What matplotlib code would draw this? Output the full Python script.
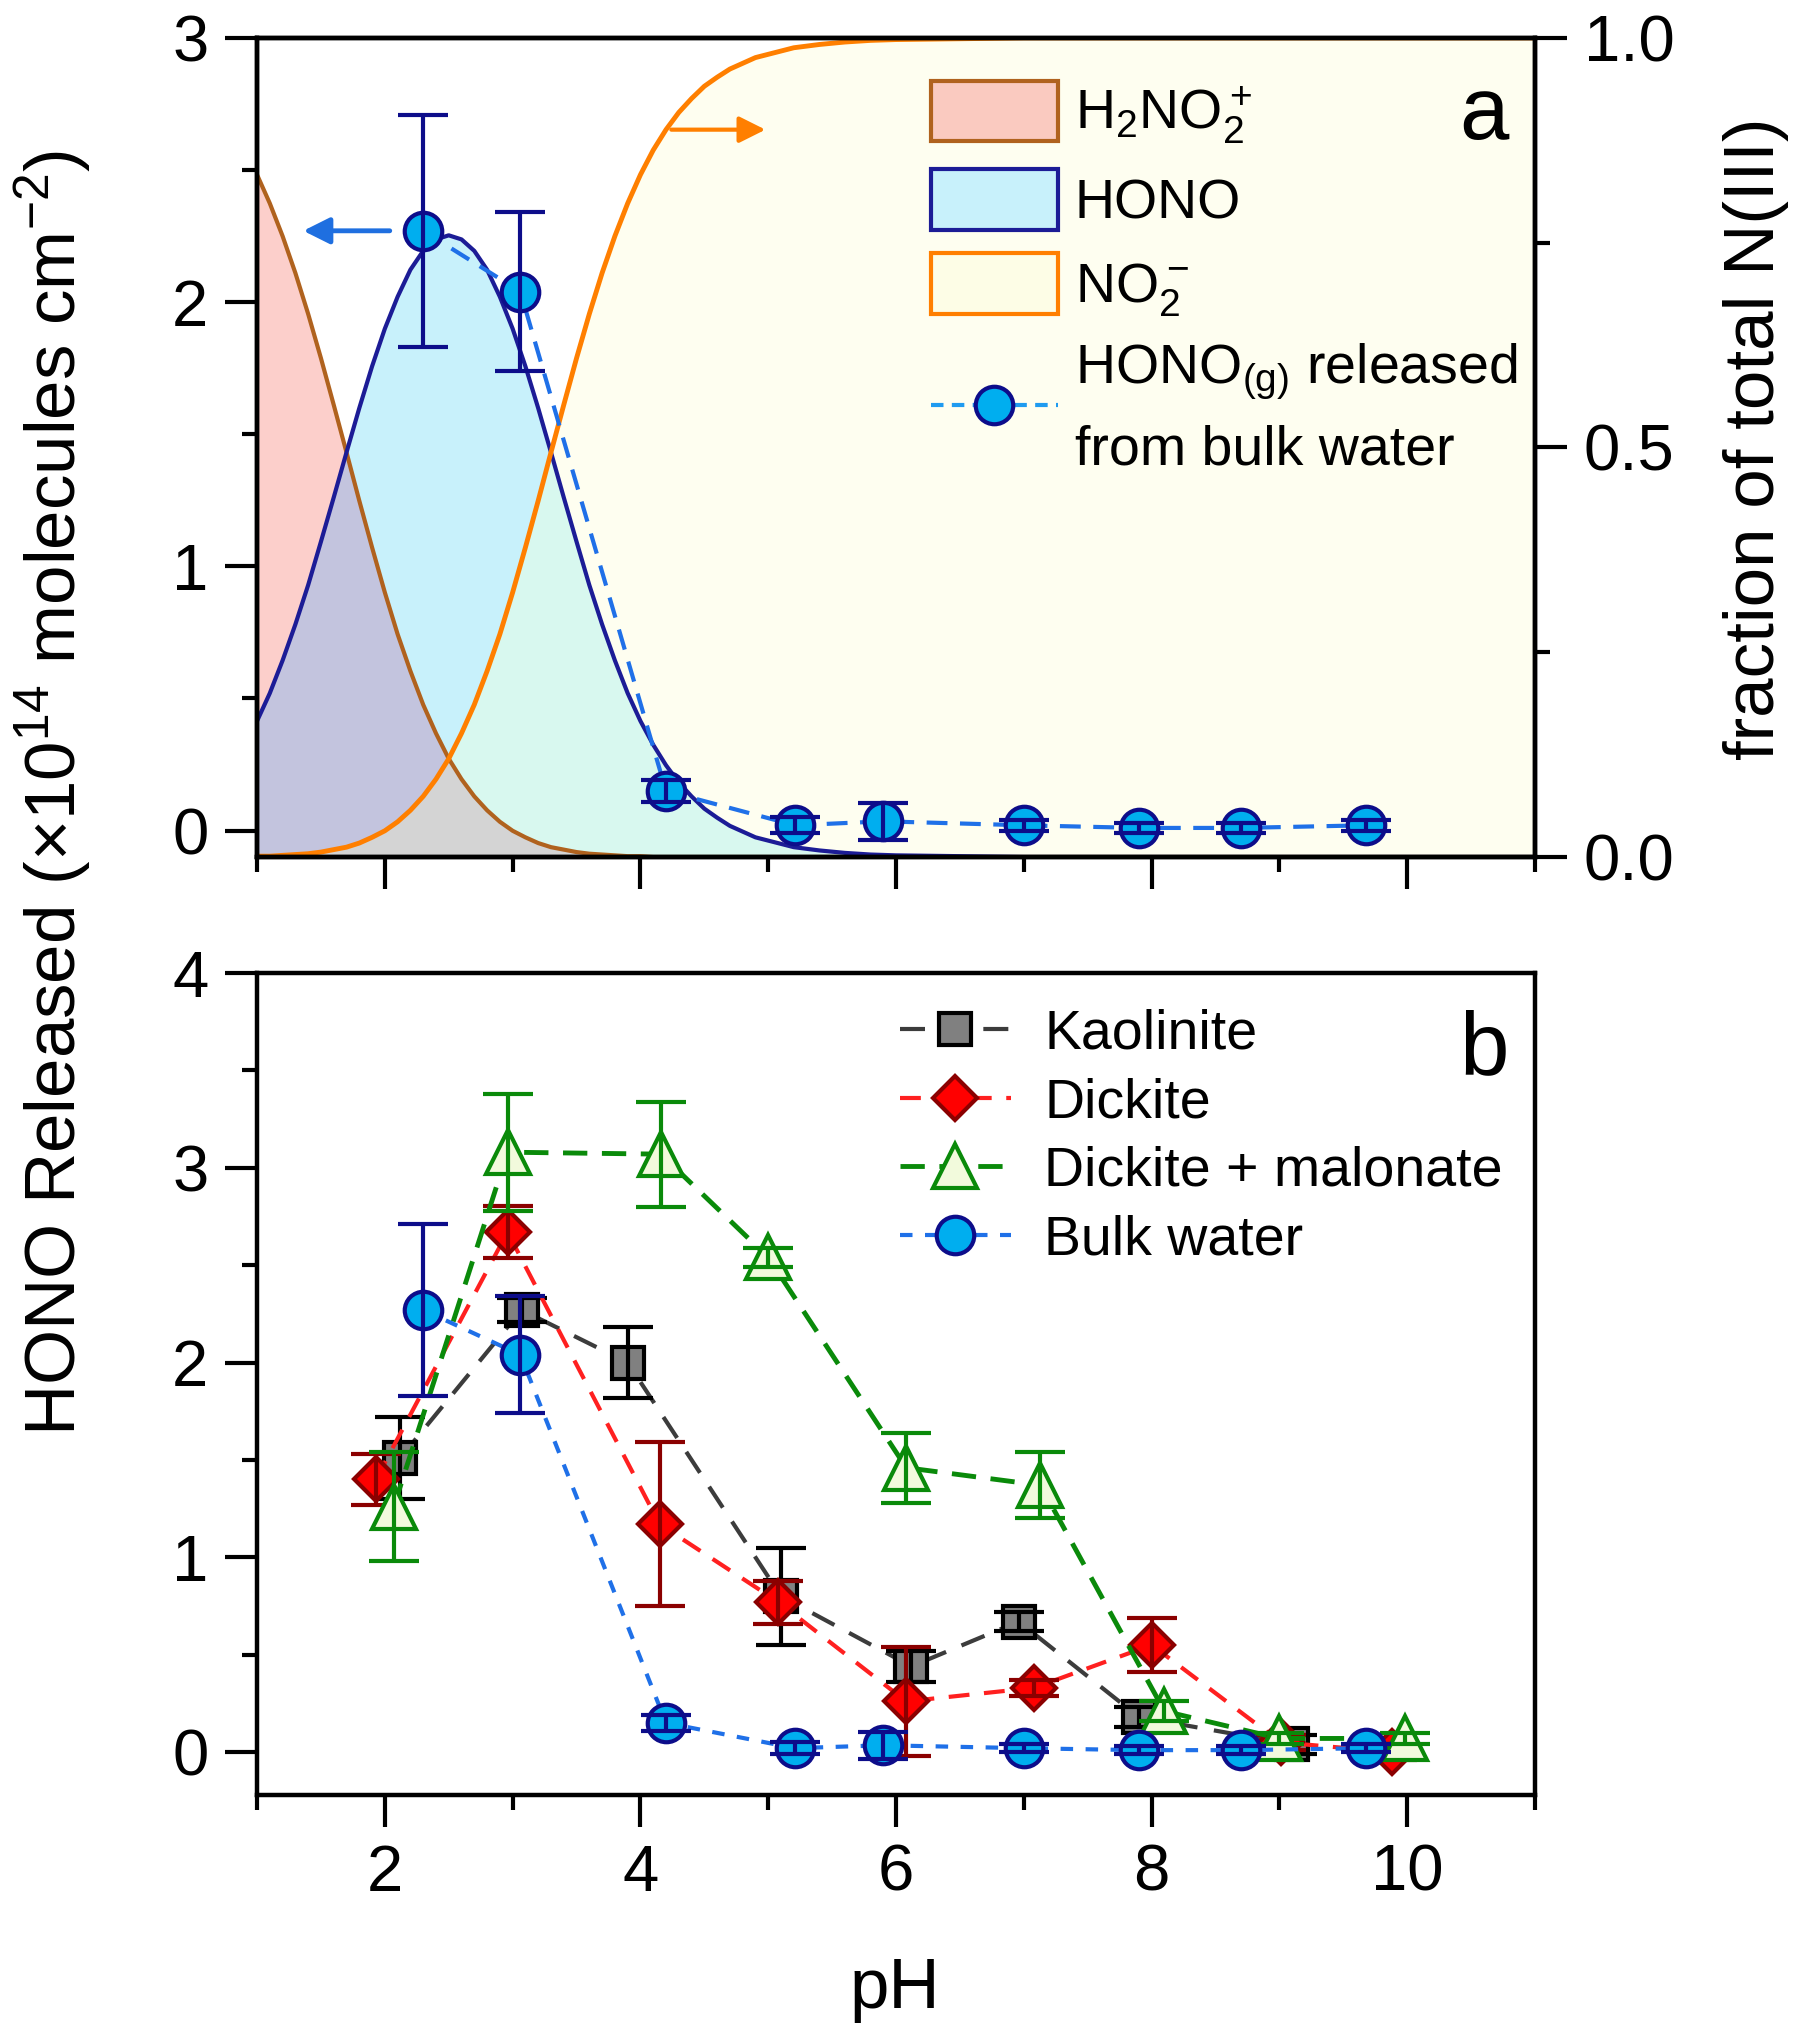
import numpy as np
import matplotlib.pyplot as plt
from matplotlib.patches import Patch
from matplotlib.lines import Line2D

plt.rcParams['font.family'] = ['Liberation Sans', 'DejaVu Sans']
plt.rcParams['mathtext.default'] = 'regular'

# speciation of N(III), fraction of total
ph_spec = [1.0, 1.1, 1.2, 1.3, 1.4, 1.5, 1.6, 1.7, 1.8, 1.9, 2.0, 2.1, 2.2, 2.3, 2.4, 2.5,
           2.6, 2.7, 2.8, 2.9, 3.0, 3.1, 3.2, 3.3, 3.4, 3.5, 3.6, 3.7, 3.8, 3.9, 4.0,
           4.1, 4.2, 4.3, 4.4, 4.5, 4.6, 4.7, 4.8, 4.9, 5.0, 5.2, 5.4, 5.6, 5.8, 6.0,
           6.5, 7.0, 8.0, 9.0, 10.0, 11.0]
frac_h2no2 = [0.833, 0.798, 0.758, 0.713, 0.663, 0.609, 0.552, 0.494, 0.435, 0.378, 0.323,
              0.272, 0.227, 0.186, 0.151, 0.120, 0.095, 0.074, 0.057, 0.043, 0.032, 0.024,
              0.017, 0.012, 0.009, 0.006, 0.004, 0.003, 0.002, 0.001, 0.001,
              0.0, 0.0, 0.0, 0.0, 0.0, 0.0, 0.0, 0.0, 0.0, 0.0, 0.0, 0.0, 0.0, 0.0, 0.0,
              0.0, 0.0, 0.0, 0.0, 0.0, 0.0]
frac_hono = [0.166, 0.200, 0.240, 0.284, 0.332, 0.385, 0.439, 0.494, 0.548, 0.599, 0.645,
             0.684, 0.717, 0.740, 0.754, 0.759, 0.754, 0.740, 0.717, 0.684, 0.645, 0.599,
             0.548, 0.494, 0.439, 0.385, 0.332, 0.284, 0.240, 0.200, 0.166,
             0.137, 0.112, 0.091, 0.074, 0.059, 0.048, 0.038, 0.031, 0.024, 0.020,
             0.012, 0.008, 0.005, 0.003, 0.002, 0.001, 0.0, 0.0, 0.0, 0.0, 0.0]
frac_no2 = [0.001, 0.001, 0.002, 0.003, 0.004, 0.006, 0.009, 0.012, 0.017, 0.024, 0.032,
            0.043, 0.057, 0.074, 0.095, 0.120, 0.151, 0.186, 0.227, 0.272, 0.323, 0.378,
            0.435, 0.494, 0.552, 0.609, 0.663, 0.713, 0.758, 0.798, 0.833,
            0.863, 0.888, 0.909, 0.926, 0.941, 0.952, 0.962, 0.969, 0.976, 0.980,
            0.988, 0.992, 0.995, 0.997, 0.998, 0.999, 1.0, 1.0, 1.0, 1.0, 1.0]

# HONO released (x1e14 molecules cm-2)
ph_bulk = [2.3, 3.06, 4.2, 5.21, 5.9, 7.0, 7.9, 8.7, 9.68]
bulk = [2.27, 2.04, 0.15, 0.02, 0.035, 0.02, 0.01, 0.01, 0.02]
bulk_err = [0.44, 0.30, 0.04, 0.03, 0.07, 0.02, 0.02, 0.02, 0.02]

ph_kao = [2.12, 3.07, 3.9, 5.1, 6.12, 6.96, 7.9, 9.1]
kao = [1.51, 2.27, 2.0, 0.80, 0.44, 0.67, 0.18, 0.04]
kao_err = [0.21, 0.06, 0.18, 0.25, 0.08, 0.05, 0.05, 0.05]

ph_dic = [1.93, 2.96, 4.15, 5.08, 6.08, 7.08, 8.0, 9.01, 9.88]
dic = [1.40, 2.67, 1.17, 0.77, 0.26, 0.33, 0.55, 0.05, 0.0]
dic_err = [0.13, 0.135, 0.42, 0.11, 0.28, 0.04, 0.14, 0.04, 0.04]

ph_mal = [2.07, 2.96, 4.16, 5.0, 6.08, 7.13, 8.1, 9.0, 9.98]
mal = [1.26, 3.08, 3.07, 2.54, 1.46, 1.37, 0.21, 0.07, 0.07]
mal_err = [0.28, 0.3, 0.27, 0.05, 0.18, 0.17, 0.05, 0.03, 0.03]

FS = 47     # tick labels
FL = 51     # axis titles
LW = 3.2

fig = plt.figure(figsize=(18, 20.39), dpi=100)
ax_a = fig.add_axes([0.1428, 0.5797, 0.71, 0.4017])
ax_b = fig.add_axes([0.1428, 0.1197, 0.71, 0.4031])

# ---- panel a ----
ax_f = ax_a.twinx()
ax_f.set_zorder(ax_a.get_zorder() - 1)
ax_a.patch.set_visible(False)

h0 = np.array(frac_h2no2)
h1 = np.array(frac_hono)
h2 = np.array(frac_no2)
ax_f.fill_between(ph_spec, 0, h0, color='#FCCFCB', lw=0)
ax_f.fill_between(ph_spec, 0, h1, color='#C8F1FB', lw=0)
ax_f.fill_between(ph_spec, 0, h2, color='#FEFEF0', lw=0)
ax_f.fill_between(ph_spec, 0, np.minimum(h0, h1), color='#C3C4DE', lw=0)
ax_f.fill_between(ph_spec, 0, np.minimum(h1, h2), color='#D8F8EF', lw=0)
ax_f.fill_between(ph_spec, 0, np.minimum(h0, h2), color='#D4D4D4', lw=0)
ax_f.plot(ph_spec, h0, color='#B0621E', lw=3)
ax_f.plot(ph_spec, h1, color='#1C1C96', lw=3)
ax_f.plot(ph_spec, h2, color='#FF7F00', lw=3.5)
ax_f.set_ylim(0, 1)
ax_f.set_yticks([0, 0.5, 1.0])
ax_f.set_yticklabels(['0.0', '0.5', '1.0'])
ax_f.set_yticks([0.25, 0.75], minor=True)
ax_f.annotate('', xy=(5.0, 0.888), xytext=(4.22, 0.888),
              arrowprops=dict(arrowstyle='-|>', color='#FF7F00', lw=3, mutation_scale=40))

ax_a.plot(ph_bulk, bulk, ls=(0, (5, 3)), color='#1F70E8', lw=3, marker='o', ms=27,
          mfc='#00AEEF', mec='#0D0D8A', mew=3, zorder=3)
ax_a.errorbar(ph_bulk, bulk, yerr=bulk_err, fmt='none', ecolor='#0D0D8A', elinewidth=3,
              capsize=18, capthick=3, zorder=4)
ax_a.annotate('', xy=(1.34, 2.27), xytext=(2.06, 2.27),
              arrowprops=dict(arrowstyle='-|>', color='#1F6FE0', lw=3.5, mutation_scale=40))
ax_a.set_ylim(-0.1, 3)
ax_a.set_yticks([0, 1, 2, 3])
ax_a.set_yticks([0.5, 1.5, 2.5], minor=True)
ax_a.set_xticklabels([])
ax_a.text(0.96, 0.905, 'a', transform=ax_a.transAxes, ha='center', va='center', fontsize=64)

handles_a = [Patch(facecolor='#FACAC0', edgecolor='#B0621E', lw=3),
             Patch(facecolor='#C8F1FB', edgecolor='#1C1C96', lw=3),
             Patch(facecolor='#FDFDE6', edgecolor='#FF7F00', lw=3),
             Line2D([], [], ls=(0, (3, 2)), color='#1F9BF0', lw=3, marker='o', ms=27,
                    mfc='#00AEEF', mec='#0D0D8A', mew=3)]
labels_a = ['H$_2$NO$_2^+$', 'HONO', 'NO$_2^-$', 'HONO$_{(g)}$ released\nfrom bulk water']
leg_a = ax_a.legend(handles_a, labels_a, loc='upper left', bbox_to_anchor=(0.527, 0.948),
                    frameon=False, fontsize=40, handlelength=2.3, handleheight=1.3,
                    handletextpad=0.3, labelspacing=0.42, borderpad=0, borderaxespad=0)
leg_a.get_texts()[3].set_linespacing(1.55)

# ---- panel b ----
series = [
    (ph_kao, kao, kao_err, 'Kaolinite', '#3C3C3C', (0, (6, 4)), 's', 23, '#808080', 'black', 'black'),
    (ph_dic, dic, dic_err, 'Dickite', '#FF2020', (0, (5, 3.5)), 'D', 22, '#FF0000', '#8B0000', '#8B0000'),
    (ph_mal, mal, mal_err, 'Dickite + malonate', '#0A8A0A', (0, (5, 3)), '^', 32, '#F2FADC', '#0A8A0A', '#0A8A0A'),
    (ph_bulk, bulk, bulk_err, 'Bulk water', '#1F70E8', (0, (3, 3)), 'o', 27, '#00AEEF', '#0D0D8A', '#0D0D8A'),
]
handles_b = []
for i, (x, y, e, lab, lc, ls, mk, ms, mfc, mec, ec) in enumerate(series):
    lw = 3.5 if lab == 'Dickite + malonate' else 3
    ax_b.plot(x, y, ls=ls, color=lc, lw=lw, zorder=3 + 2 * i)
    ax_b.plot(x, y, ls='none', marker=mk, ms=ms, mfc=mfc, mec=mec, mew=3, zorder=3 + 2 * i)
    ax_b.errorbar(x, y, yerr=e, fmt='none', ecolor=ec, elinewidth=3, capsize=18, capthick=3,
                  zorder=4 + 2 * i)
    handles_b.append(Line2D([], [], ls=ls, color=lc, lw=lw, marker=mk, ms=ms, mfc=mfc, mec=mec, mew=3))
ax_b.legend(handles_b, [s[3] for s in series], loc='upper left', bbox_to_anchor=(0.503, 0.957),
            frameon=False, fontsize=40, handlelength=2.0, handletextpad=0.6, labelspacing=0.3,
            borderpad=0, borderaxespad=0)
ax_b.set_ylim(-0.22, 4)
ax_b.set_yticks([0, 1, 2, 3, 4])
ax_b.set_yticks([0.5, 1.5, 2.5, 3.5], minor=True)
ax_b.text(0.96, 0.905, 'b', transform=ax_b.transAxes, ha='center', va='center', fontsize=64)

for ax in (ax_a, ax_b):
    ax.set_xlim(1, 11)
    ax.set_xticks([2, 4, 6, 8, 10])
    ax.set_xticks([1, 3, 5, 7, 9, 11], minor=True)
    ax.tick_params(which='both', direction='out', width=3, labelsize=FS, top=False, right=False)
    ax.tick_params(which='major', length=23, pad=12)
    ax.tick_params(which='minor', length=11)
    for s in ax.spines.values():
        s.set_linewidth(LW)
ax_f.tick_params(which='both', direction='out', width=3, labelsize=FS)
ax_f.tick_params(which='major', length=23, pad=12)
ax_f.tick_params(which='minor', length=11)
for s in ax_f.spines.values():
    s.set_linewidth(LW)

fig.text(0.029, 0.611, 'HONO Released (×10$^{14}$ molecules cm$^{-2}$)', rotation=90,
         ha='center', va='center', fontsize=FL)
fig.text(0.9756, 0.785, 'fraction of total N(III)', rotation=90,
         ha='center', va='center', fontsize=FL)
fig.text(0.497, 0.024, 'pH', ha='center', va='center', fontsize=FL)

fig.savefig('out.png', dpi=100)
